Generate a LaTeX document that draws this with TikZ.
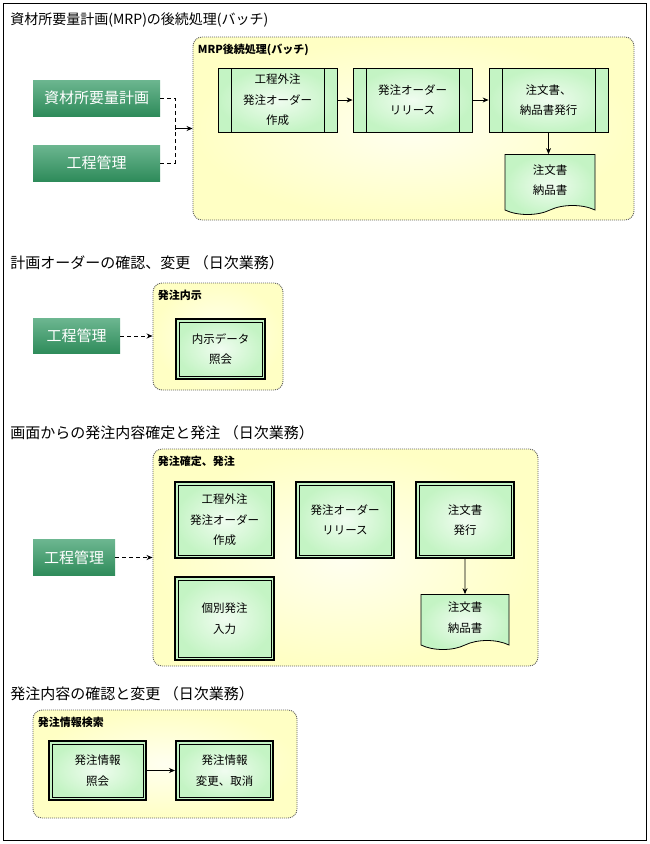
\documentclass[tikz,border=0pt]{standalone}
\usepackage{fontspec}
\setmainfont{Noto Sans CJK JP}
\usetikzlibrary{arrows.meta,positioning,calc,shapes.symbols}
\definecolor{verde}{RGB}{46,139,90}
\definecolor{verdeclaro}{RGB}{108,182,144}
\definecolor{verdepalido}{RGB}{196,244,196}
\definecolor{crema}{RGB}{255,255,196}
\definecolor{gris}{RGB}{95,95,95}

\begin{document}
\begin{tikzpicture}[x=1pt,y=-1pt,>={Stealth[length=6pt,width=5pt]},line width=0.8pt,
    titulo/.style={anchor=west,inner sep=0pt,font=\fontsize{15}{17}\selectfont},
    grupo/.style={draw=gris,line width=0.9pt,dash pattern=on 1pt off 1pt,rounded corners=9pt,inner color=crema!25,outer color=crema,inner sep=0pt},
    etiqueta/.style={anchor=west,inner sep=0pt,font=\bfseries\fontsize{11}{13}\selectfont},
    actor/.style={top color=verdeclaro,bottom color=verde,text=white,inner sep=0pt,font=\fontsize{15}{17}\selectfont},
    caja/.style={inner color=verdepalido!25,outer color=verdepalido,inner sep=0pt,align=center,font=\fontsize{11.5}{20.5}\selectfont},
    proceso/.style={caja,draw,minimum width=119pt,minimum height=64pt,
      path picture={\draw ([xshift=13pt]path picture bounding box.north west) -- ([xshift=13pt]path picture bounding box.south west)
        ([xshift=-13pt]path picture bounding box.north east) -- ([xshift=-13pt]path picture bounding box.south east);}},
    pantalla/.style={caja,draw,line width=2pt,
      path picture={\draw[line width=0.8pt] ([shift={(3pt,-3pt)}]path picture bounding box.north west) rectangle ([shift={(-3pt,3pt)}]path picture bounding box.south east);}},
    documento/.style={caja,draw,shape=tape,tape bend top=none,tape bend bottom=in and out,tape bend height=9pt},
    punteada/.style={dash pattern=on 4pt off 3pt}]
  \useasboundingbox (0,0) rectangle (650,844);
  \draw (3,3) rectangle (646,840);

  % MRP
  \node[titulo,font=\fontsize{14}{16}\selectfont] (t1) at (10,20) {資材所要量計画(MRP)の後続処理(バッチ)};
  \node[grupo,minimum width=441pt,minimum height=183pt] (grp1) at (413.5,128.5) {};
  \node[etiqueta] (e1) at ([shift={(5pt,-13pt)}]grp1.north west) {MRP後続処理(バッチ)};
  \node[actor,minimum width=127pt,minimum height=36pt] (mrp) at (96.5,98) {資材所要量計画};
  \node[actor,minimum width=127pt,minimum height=36pt] (kt1) at (96.5,163) {工程管理};
  \node[proceso] (p1) at (277.5,100) {工程外注\\発注オーダー\\作成};
  \node[proceso] (p2) at (412.5,100) {発注オーダー\\リリース};
  \node[proceso] (p3) at (548.5,100) {注文書、\\納品書発行};
  \node[documento,minimum width=90pt,minimum height=60pt] (doc1) at (550,180) {注文書\\納品書};
  \coordinate (union) at ([xshift=-17pt]grp1.west);
  \draw[punteada] (mrp.east) -| (union);
  \draw[punteada] (kt1.east) -| (union);
  \draw[->] (union) -- (grp1.west);
  \draw[->] (p1) -- (p2);
  \draw[->] (p2) -- (p3);
  \draw[->] (p3.south) -- (p3.south |- doc1.north);

  % naiji
  \node[titulo] (t2) at (10,263) {計画オーダーの確認、変更 （日次業務）};
  \node[grupo,minimum width=130pt,minimum height=107pt] (grp2) at (218,336.5) {};
  \node[etiqueta] (e2) at ([shift={(5pt,-13pt)}]grp2.north west) {発注内示};
  \node[actor,minimum width=87pt,minimum height=35pt] (kt2) at (76.5,336) {工程管理};
  \node[pantalla,minimum width=89pt,minimum height=60pt] (s0) at (220.5,349) {内示データ\\照会};
  \draw[punteada,->] (kt2.east) -- (kt2.east -| grp2.west);

  % kakutei
  \node[titulo] (t3) at (10,433) {画面からの発注内容確定と発注 （日次業務）};
  \node[grupo,minimum width=385pt,minimum height=217pt] (grp3) at (345.5,557.5) {};
  \node[etiqueta] (e3) at ([shift={(5pt,-13pt)}]grp3.north west) {発注確定、発注};
  \node[actor,minimum width=82pt,minimum height=36pt] (kt3) at (74,557.5) {工程管理};
  \node[pantalla,minimum width=99pt,minimum height=76pt] (s1) at (224.5,520) {工程外注\\発注オーダー\\作成};
  \node[pantalla,minimum width=98pt,minimum height=76pt] (s2) at (345,520) {発注オーダー\\リリース};
  \node[pantalla,minimum width=98pt,minimum height=76pt] (s3) at (465,520) {注文書\\発行};
  \node[pantalla,minimum width=99pt,minimum height=83pt] (s4) at (224.5,618.5) {個別発注\\入力};
  \node[documento,minimum width=88pt,minimum height=55pt] (doc2) at (465,617.5) {注文書\\納品書};
  \draw[punteada,->] (kt3.east) -- (kt3.east -| grp3.west);
  \draw[->] (s3) -- (doc2);

  % kensaku
  \node[titulo] (t4) at (10,694) {発注内容の確認と変更 （日次業務）};
  \node[grupo,minimum width=264pt,minimum height=108pt] (grp4) at (165,764) {};
  \node[etiqueta] (e4) at ([shift={(5pt,-13pt)}]grp4.north west) {発注情報検索};
  \node[pantalla,minimum width=97pt,minimum height=59pt] (s5) at (97.5,770.5) {発注情報\\照会};
  \node[pantalla,minimum width=97pt,minimum height=59pt] (s6) at (224.5,770.5) {発注情報\\変更、取消};
  \draw[->] (s5) -- (s6);
\end{tikzpicture}
\end{document}
